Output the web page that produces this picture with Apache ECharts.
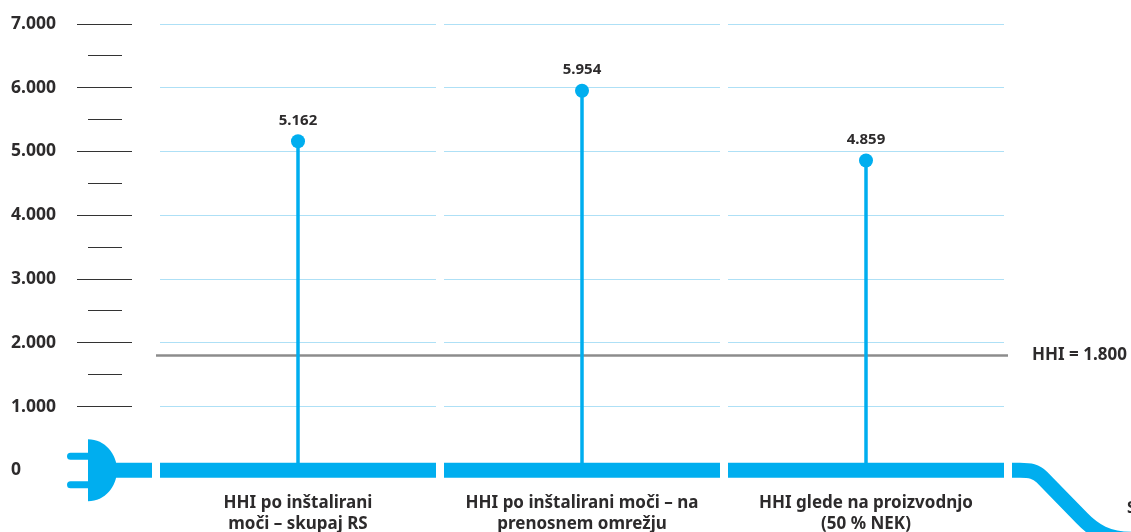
<!DOCTYPE html>
<html><head><meta charset="utf-8">
<style>html,body{margin:0;padding:0;background:#fff}#c{width:1131px;height:532px}</style>
<script src="https://cdn.jsdelivr.net/npm/echarts@6/dist/echarts.min.js"></script>
</head><body><div id="c"></div>
<script>
const categories = ['HHI po inštalirani\nmoči – skupaj RS','HHI po inštalirani moči – na\nprenosnem omrežju','HHI glede na proizvodnjo\n(50 % NEK)'];
const values = [5162,5954,4859];
const threshold = 1800;
const gridValues = [1000,2000,3000,4000,5000,6000,7000];
const minorTicks = [1500,2500,3500,4500,5500,6500];

const BLUE='#00aeef', INK='#2d2b2c', FONT='"Noto Sans"';
const fmt = v => v===0 ? '0' : String(v).replace(/(\d)(\d{3})$/,'$1.$2');

const chart = echarts.init(document.getElementById('c'),null,{renderer:'canvas'});

function bandItem(params,api){
  const cat=api.value(0);
  const band=api.size([1,0])[0];
  const cx=api.coord([cat,0])[0];
  const x1=cx-band/2+4, x2=cx+band/2-4;
  const children=gridValues.map(v=>{
    const y=Math.floor(api.coord([cat,v])[1])+.5;
    return {type:'line',shape:{x1,y1:y,x2,y2:y},style:{stroke:'#aee0f6',lineWidth:1.2}};
  });
  const y0=api.coord([cat,0])[1];
  children.push({type:'rect',shape:{x:x1,y:y0-7.5,width:x2-x1,height:15},style:{fill:BLUE}});
  return {type:'group',children};
}
function tickItem(params,api){
  const grid=params.coordSys;
  const left=grid.x;
  const children=[];
  gridValues.forEach(v=>{const y=Math.floor(api.coord([0,v])[1])+.5;
    children.push({type:'line',shape:{x1:left-79,y1:y,x2:left-24,y2:y},style:{stroke:'#333',lineWidth:1}});});
  minorTicks.forEach(v=>{const y=Math.floor(api.coord([0,v])[1])+.5;
    children.push({type:'line',shape:{x1:left-68,y1:y,x2:left-34,y2:y},style:{stroke:'#333',lineWidth:1}});});
  const y0=api.coord([0,0])[1];
  const px=left-68;
  children.push({type:'rect',shape:{x:px+25,y:y0-7.5,width:39,height:15},style:{fill:BLUE}});
  children.push({type:'path',shape:{pathData:`M${px} ${y0-31}C${px+17} ${y0-31} ${px+29} ${y0-16} ${px+29} ${y0}C${px+29} ${y0+16} ${px+17} ${y0+31} ${px} ${y0+31}Z`},style:{fill:BLUE}});
  [-14,14.5].forEach(d=>children.push({type:'rect',shape:{x:px-21,y:y0+d-3.5,width:23,height:7,r:[3.5,0,0,3.5]},style:{fill:BLUE}}));
  const r=grid.x+grid.width;
  children.push({type:'path',shape:{pathData:`M${r+4} ${y0}L${r+12} ${y0}C${r+22} ${y0} ${r+28} ${y0+1} ${r+34} ${y0+7}L${r+74} ${y0+48}C${r+86} ${y0+60.5} ${r+100} ${y0+69} ${r+123} ${y0+69}`},style:{fill:'none',stroke:BLUE,lineWidth:15}});
  return {type:'group',children};
}

chart.setOption({
  animation:false,
  backgroundColor:'#fff',
  grid:{left:156,right:123,top:24,bottom:61.7,containLabel:false,outerBoundsMode:'none'},
  xAxis:{type:'category',data:categories,axisLine:{show:false},axisTick:{show:false},splitLine:{show:false},
    axisLabel:{interval:0,margin:22,color:INK,fontFamily:FONT,fontWeight:700,fontSize:17,lineHeight:21}},
  yAxis:{type:'value',min:0,max:7000,interval:1000,axisLine:{show:false},axisTick:{show:false},splitLine:{show:false},
    axisLabel:{formatter:fmt,align:'left',margin:145,color:INK,fontFamily:FONT,fontWeight:700,fontSize:17.5}},
  graphic:[{type:'text',x:1127,y:500,silent:true,style:{text:'S',fill:INK,fontFamily:FONT,fontWeight:700,fontSize:16}}],
  series:[
    {type:'custom',coordinateSystem:'cartesian2d',data:categories.map((c,i)=>[i]),encode:{x:0},renderItem:bandItem,silent:true,z:1,clip:false},
    {type:'custom',coordinateSystem:'cartesian2d',data:[[0]],encode:{x:0},renderItem:tickItem,silent:true,z:1,clip:false},
    {type:'bar',data:values,barWidth:3.5,itemStyle:{color:BLUE},z:3,
      markLine:{silent:true,symbol:'none',z:2,data:[{yAxis:threshold}],lineStyle:{color:'#8c8c8c',type:'solid',width:2.5},
        label:{position:'end',distance:24,formatter:'HHI = '+fmt(threshold),color:INK,fontFamily:FONT,fontWeight:700,fontSize:17}}},
    {type:'scatter',data:values,symbol:'circle',symbolSize:14,itemStyle:{color:BLUE,opacity:1},z:4,
      label:{show:true,position:'top',distance:6,formatter:p=>fmt(p.value),color:INK,fontFamily:FONT,fontWeight:700,fontSize:15}}
  ]
});
</script></body></html>
